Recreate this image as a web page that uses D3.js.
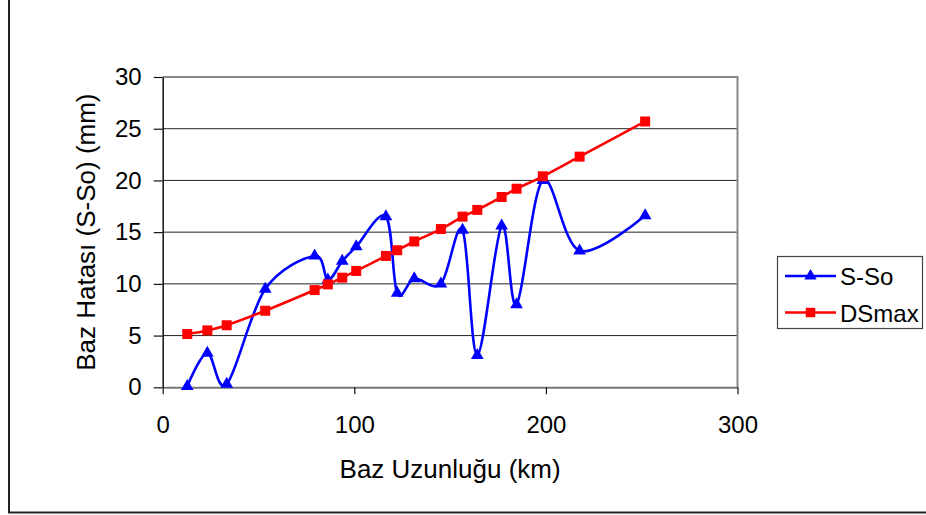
<!DOCTYPE html>
<html>
<head>
<meta charset="utf-8">
<script src="https://cdn.jsdelivr.net/npm/d3@7"></script>
<style>
  body { margin: 0; background: #fff; }
  svg { display: block; font-family: "Liberation Sans", Arial, sans-serif; }
</style>
</head>
<body>
<div id="chart"></div>
<script>
// data
const bazLength = [12.8, 23.3, 33.4, 53.5, 79.3, 86.2, 93.7, 101.0, 116.5, 122.4, 131.3, 145.2, 156.5, 164.2, 176.9, 184.7, 198.4, 217.6, 251.8];
const sSo = [0.1, 3.3, 0.3, 9.5, 12.7, 10.4, 12.2, 13.6, 16.5, 9.1, 10.5, 10.0, 15.2, 3.1, 15.6, 8.0, 20.0, 13.2, 16.6];
const dsMax = [5.15, 5.5, 6.0, 7.4, 9.4, 9.95, 10.6, 11.25, 12.7, 13.25, 14.1, 15.3, 16.5, 17.15, 18.4, 19.2, 20.4, 22.3, 25.7];
const xTicks = [0, 100, 200, 300];
const yTicks = [0, 5, 10, 15, 20, 25, 30];
const seriesNames = ["S-So", "DSmax"];

const width = 926, height = 515;
const plot = { left: 162.7, right: 737.5, top: 77, bottom: 387.3 };

const svg = d3.select("#chart").append("svg")
  .attr("width", width).attr("height", height);

// outer chart frame (top and right are off the picture)
svg.append("rect")
  .attr("x", 9).attr("y", -20)
  .attr("width", 1000).attr("height", 532.5)
  .attr("fill", "none").attr("stroke", "#222").attr("stroke-width", 2);

// scales
const x = d3.scaleLinear().domain([0, 300]).range([plot.left, plot.right]);
const y = d3.scaleLinear().domain([0, 30]).range([plot.bottom, plot.top]);

// gridlines
svg.append("g")
  .selectAll("line")
  .data(yTicks.filter((d) => d > 0 && d < 30))
  .join("line")
  .attr("x1", plot.left).attr("x2", plot.right)
  .attr("y1", (d) => y(d)).attr("y2", (d) => y(d))
  .attr("stroke", "#222").attr("stroke-width", 1);

// plot border top / right
svg.append("path")
  .attr("d", `M${plot.left},${plot.top}H${plot.right}V${plot.bottom}`)
  .attr("fill", "none").attr("stroke", "#888").attr("stroke-width", 2);

// axes
const xAxis = d3.axisBottom(x).tickValues(xTicks).tickSize(7).tickPadding(22).tickSizeOuter(0);
const yAxis = d3.axisLeft(y).tickValues(yTicks).tickSize(9).tickPadding(12).tickSizeOuter(0);

const gx = svg.append("g")
  .attr("transform", `translate(0,${plot.bottom})`)
  .call(xAxis);
gx.select(".domain").attr("stroke", "#777").attr("stroke-width", 2);

const gy = svg.append("g")
  .attr("transform", `translate(${plot.left},0)`)
  .call(yAxis);
gy.select(".domain").attr("stroke", "#111").attr("stroke-width", 1.5);

svg.selectAll(".tick line").attr("stroke", "#111").attr("stroke-width", 1.2);
svg.selectAll(".tick text")
  .attr("font-family", "Liberation Sans, Arial, sans-serif")
  .attr("font-size", 24).attr("fill", "#000");

// axis titles
svg.append("text")
  .attr("x", (plot.left + plot.right) / 2).attr("y", 478)
  .attr("text-anchor", "middle").attr("font-size", 26)
  .text("Baz Uzunluğu (km)");

svg.append("text")
  .attr("transform", `translate(95,${(plot.top + plot.bottom) / 2}) rotate(-90)`)
  .attr("text-anchor", "middle").attr("font-size", 26)
  .text("Baz Hatası (S-So) (mm)");

// series
const series = [
  { name: seriesNames[0], values: sSo, color: "#0000ff", marker: d3.symbolTriangle },
  { name: seriesNames[1], values: dsMax, color: "#ff0000", marker: d3.symbolSquare },
];

const line = d3.line()
  .curve(d3.curveCardinal.tension(0))
  .x((d) => x(d[0]))
  .y((d) => y(d[1]));

series.forEach((s) => {
  const pts = bazLength.map((b, i) => [b, s.values[i]]);
  svg.append("path")
    .datum(pts)
    .attr("fill", "none")
    .attr("stroke", s.color)
    .attr("stroke-width", 2.6)
    .attr("d", line);
  svg.append("g")
    .selectAll("path")
    .data(pts)
    .join("path")
    .attr("transform", (d) => `translate(${x(d[0])},${y(d[1])})`)
    .attr("d", d3.symbol().type(s.marker).size(s.marker === d3.symbolSquare ? 100 : 70))
    .attr("fill", s.color);
});

// legend
const legend = svg.append("g");
legend.append("rect")
  .attr("x", 777.5).attr("y", 256.5)
  .attr("width", 145).attr("height", 72)
  .attr("fill", "#fff").attr("stroke", "#444").attr("stroke-width", 1.2);

series.forEach((s, i) => {
  const ly = 276 + i * 36.5;
  legend.append("line")
    .attr("x1", 785).attr("x2", 836).attr("y1", ly).attr("y2", ly)
    .attr("stroke", s.color).attr("stroke-width", 2.6);
  legend.append("path")
    .attr("transform", `translate(810.5,${ly})`)
    .attr("d", d3.symbol().type(s.marker).size(s.marker === d3.symbolSquare ? 90 : 65))
    .attr("fill", s.color);
  legend.append("text")
    .attr("x", 840).attr("y", ly + 9)
    .attr("font-size", 24)
    .text(s.name);
});
</script>
</body>
</html>
